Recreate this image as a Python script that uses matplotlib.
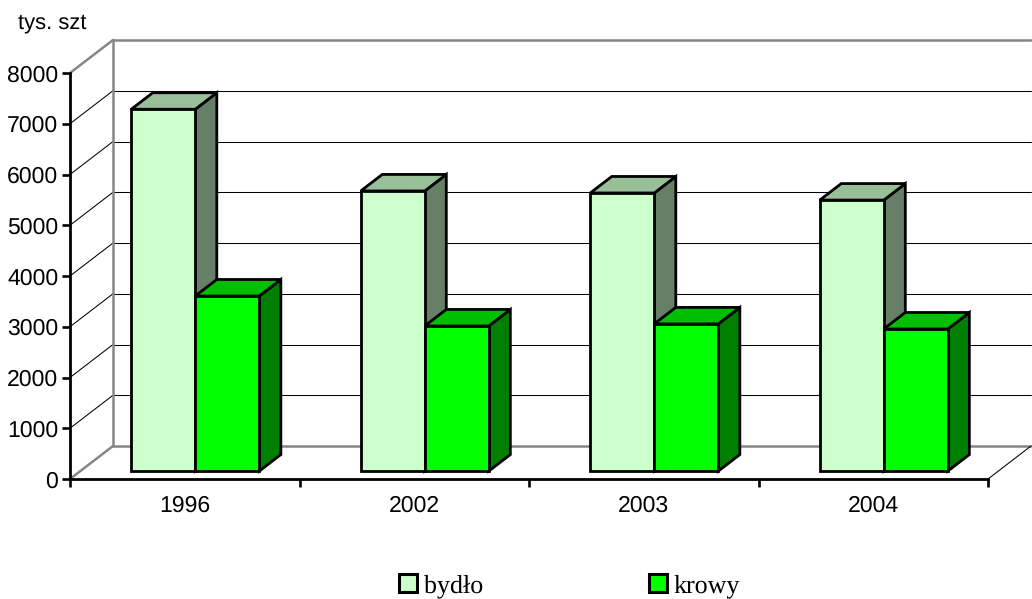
import matplotlib
matplotlib.use("Agg")
import matplotlib.pyplot as plt
from matplotlib.patches import Polygon, Patch

categories = ["1996", "2002", "2003", "2004"]
bydlo = [7130, 5520, 5480, 5340]
krowy = [3450, 2860, 2900, 2800]
y_ticks = [0, 1000, 2000, 3000, 4000, 5000, 6000, 7000, 8000]
series_names = ["bydło", "krowy"]
y_unit = "tys. szt"

W, H = 1032, 599
plt.rcParams["font.family"] = "Liberation Sans"
plt.rcParams["text.hinting"] = "no_hinting"
plt.rcParams["text.hinting_factor"] = 1
fig = plt.figure(figsize=(W / 100, H / 100), dpi=100)
ax = fig.add_axes([70 / W, 1 - 479 / H, 918 / W, 406 / H])
ax.set_xlim(0, 4)
ax.set_ylim(0, 8000)
ax.patch.set_alpha(0)

DX = 43 / 229.5
DY = 33 / 406 * 8000
GRAY = "#868686"

def line(xs, ys, color="black", lw=0.75, z=1):
    ax.plot(xs, ys, color=color, lw=lw, clip_on=False, zorder=z, solid_capstyle="round")

for v in y_ticks[1:-1]:
    line([0, DX], [v, v + DY])
    line([DX, 4 + DX], [v + DY, v + DY])
line([0, DX], [8000, 8000 + DY], GRAY, 1.8, 2)
line([DX, 4 + DX], [8000 + DY, 8000 + DY], GRAY, 1.8, 2)
line([DX, DX], [DY, 8000 + DY], GRAY, 1.8, 2)
line([0, DX], [0, DY], GRAY, 1.8, 2)
line([DX, 4 + DX], [DY, DY], GRAY, 1.8, 2)
line([4, 4 + DX], [0, DY], "black", 0.75, 2)

F0, F1 = 0.24, 0.74
LEFT, WIDTH = 0.222, 0.279

def box(x0, x1, v, front, top, side, z):
    ox, oy = F0 * DX, F0 * DY
    dx, dy = (F1 - F0) * DX, (F1 - F0) * DY
    a, b = x0 + ox, x1 + ox
    kw = dict(edgecolor="black", lw=2.0, joinstyle="miter", clip_on=False, zorder=z)
    ax.add_patch(Polygon([(b, oy), (b + dx, oy + dy), (b + dx, v + oy + dy), (b, v + oy)],
                         facecolor=side, **kw))
    ax.add_patch(Polygon([(a, v + oy), (b, v + oy), (b + dx, v + oy + dy), (a + dx, v + oy + dy)],
                         facecolor=top, **kw))
    ax.add_patch(Polygon([(a, oy), (b, oy), (b, v + oy), (a, v + oy)],
                         facecolor=front, **kw))

for i in range(len(categories)):
    box(i + LEFT, i + LEFT + WIDTH, bydlo[i], "#CCFFCC", "#99BF99", "#667F66", 3)
    box(i + LEFT + WIDTH, i + LEFT + 2 * WIDTH, krowy[i], "#00FF00", "#00BF00", "#007F00", 4)

for s in ("top", "right"):
    ax.spines[s].set_visible(False)
for s in ("left", "bottom"):
    ax.spines[s].set_linewidth(2.0)
    ax.spines[s].set_zorder(6)

ax.set_yticks(y_ticks)
ax.tick_params(axis="y", length=5.5, width=1.9, labelsize=16.3, pad=3)
ax.set_xticks(range(len(categories) + 1))
ax.set_xticklabels([])
ax.tick_params(axis="x", which="major", length=5.5, width=1.9)
ax.set_xticks([i + 0.5 for i in range(len(categories))], minor=True)
ax.set_xticklabels(categories, minor=True)
ax.tick_params(axis="x", which="minor", length=0, labelsize=16.3, pad=11.5)

fig.text(18 / W, 1 - 23 / H, y_unit, fontsize=15.5, va="center", ha="left")

handles = [Patch(facecolor="#CCFFCC", edgecolor="black", lw=2.2),
           Patch(facecolor="#00FF00", edgecolor="black", lw=2.2)]
fig.legend(handles, series_names, ncol=2, frameon=False,
           loc="lower left", bbox_to_anchor=(399 / W, 1 - 598 / H),
           prop={"family": "Liberation Serif", "size": 19},
           handlelength=0.68, handleheight=0.7, handletextpad=0.25,
           columnspacing=6.3, borderpad=0, borderaxespad=0)

fig.savefig("out.png", dpi=100)
